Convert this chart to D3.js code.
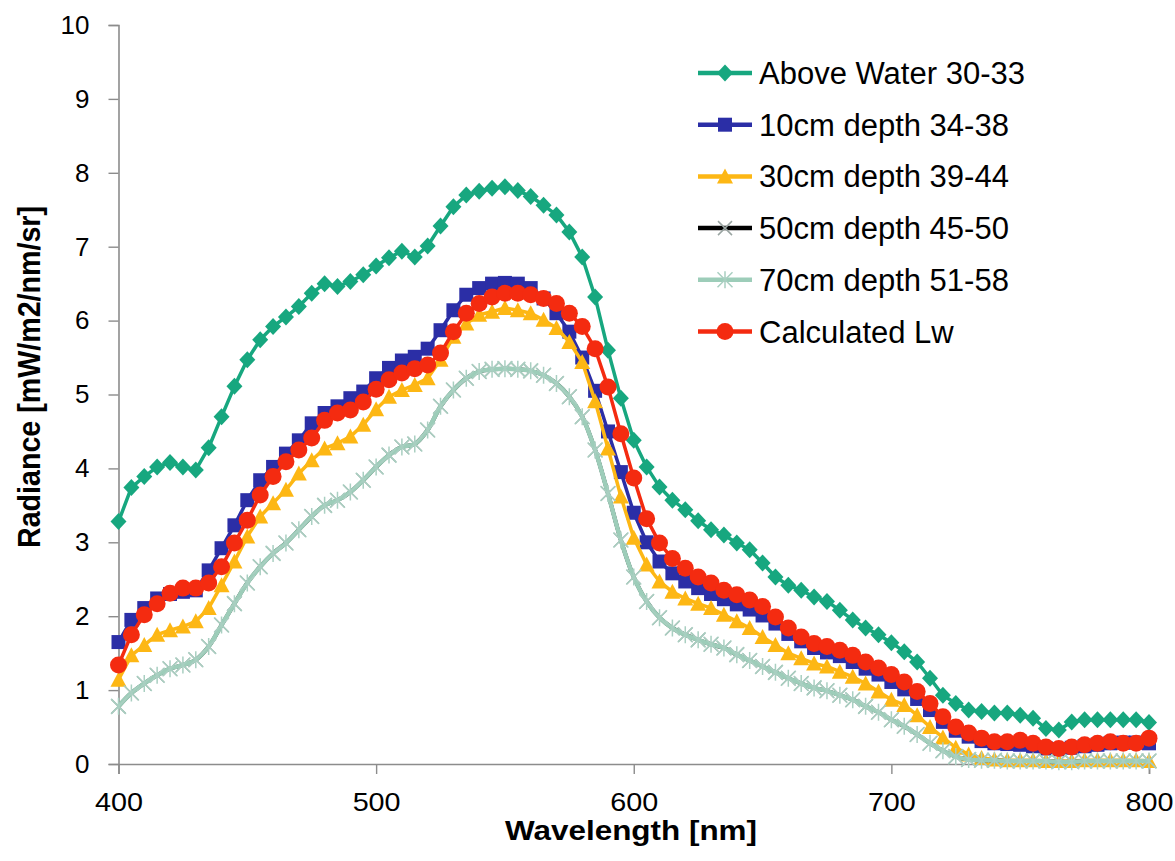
<!DOCTYPE html>
<html>
<head>
<meta charset="utf-8">
<script src="https://cdn.jsdelivr.net/npm/d3@7"></script>
<style>
  html, body { margin: 0; padding: 0; background: #fff; }
  svg { display: block; font-family: "Liberation Sans", Arial, sans-serif; }
</style>
</head>
<body>
<svg id="chart" width="1175" height="861"></svg>
<script>
// Wavelength grid (nm), 5 nm steps
const wavelengths = d3.range(400, 805, 5);

// Radiance spectra [mW/m2/nm/sr]
const aboveWater = [3.28,3.74,3.89,4.02,4.08,4.02,3.98,4.28,4.70,5.11,5.47,5.74,5.92,6.05,6.19,6.37,6.50,6.46,6.53,6.62,
  6.74,6.85,6.94,6.86,7.01,7.28,7.54,7.70,7.75,7.79,7.81,7.76,7.68,7.56,7.43,7.20,6.86,6.32,5.60,4.95,
  4.38,4.02,3.75,3.57,3.44,3.29,3.17,3.10,2.99,2.90,2.72,2.53,2.42,2.35,2.26,2.20,2.08,1.95,1.84,1.75,
  1.64,1.52,1.38,1.16,0.93,0.82,0.73,0.71,0.69,0.69,0.66,0.62,0.48,0.46,0.57,0.60,0.60,0.60,0.60,0.60,0.56];

const depth10 = [1.65,1.95,2.11,2.24,2.30,2.33,2.35,2.62,2.92,3.23,3.57,3.84,4.02,4.20,4.38,4.61,4.75,4.84,4.95,5.04,
  5.22,5.36,5.46,5.51,5.62,5.87,6.14,6.35,6.44,6.50,6.51,6.50,6.44,6.30,6.10,5.85,5.50,5.05,4.50,3.95,
  3.40,3.00,2.74,2.58,2.47,2.38,2.30,2.23,2.16,2.09,2.01,1.90,1.76,1.66,1.57,1.51,1.46,1.38,1.29,1.21,
  1.11,1.01,0.88,0.73,0.57,0.45,0.37,0.31,0.28,0.27,0.26,0.24,0.21,0.20,0.22,0.24,0.26,0.28,0.29,0.29,0.28];

const depth30 = [1.14,1.47,1.61,1.75,1.81,1.86,1.93,2.11,2.42,2.74,3.08,3.35,3.53,3.71,3.93,4.11,4.27,4.34,4.43,4.59,
  4.80,4.97,5.06,5.13,5.22,5.47,5.78,5.96,6.08,6.12,6.17,6.14,6.10,6.01,5.90,5.71,5.44,4.91,4.27,3.62,
  3.06,2.70,2.47,2.33,2.24,2.17,2.11,2.02,1.93,1.84,1.72,1.61,1.50,1.43,1.36,1.32,1.25,1.18,1.09,0.98,
  0.87,0.80,0.66,0.50,0.36,0.22,0.13,0.08,0.06,0.05,0.05,0.05,0.04,0.04,0.04,0.05,0.05,0.05,0.05,0.05,0.04];

const depth50 = [0.78,0.96,1.09,1.20,1.29,1.34,1.41,1.59,1.88,2.17,2.45,2.67,2.85,2.99,3.17,3.35,3.50,3.57,3.68,3.84,
  4.02,4.18,4.29,4.33,4.52,4.84,5.06,5.22,5.31,5.34,5.35,5.34,5.32,5.26,5.15,4.97,4.70,4.25,3.66,3.03,
  2.53,2.20,1.98,1.84,1.75,1.68,1.62,1.57,1.48,1.40,1.32,1.24,1.16,1.09,1.03,0.99,0.93,0.87,0.78,0.70,
  0.60,0.51,0.40,0.28,0.18,0.10,0.06,0.05,0.05,0.04,0.04,0.04,0.04,0.03,0.03,0.04,0.04,0.04,0.04,0.04,0.04];

const depth70 = [0.78,0.96,1.09,1.20,1.29,1.34,1.41,1.59,1.88,2.17,2.45,2.67,2.85,2.99,3.17,3.35,3.50,3.57,3.68,3.84,
  4.02,4.18,4.29,4.33,4.52,4.84,5.06,5.22,5.31,5.34,5.35,5.34,5.32,5.26,5.15,4.97,4.70,4.25,3.66,3.03,
  2.53,2.20,1.98,1.84,1.75,1.68,1.62,1.57,1.48,1.40,1.32,1.24,1.16,1.09,1.03,0.99,0.93,0.87,0.78,0.70,
  0.60,0.51,0.40,0.28,0.18,0.10,0.06,0.05,0.05,0.04,0.04,0.04,0.04,0.03,0.03,0.04,0.04,0.04,0.04,0.04,0.04];

const calculatedLw = [1.34,1.75,2.02,2.17,2.31,2.38,2.38,2.45,2.67,2.99,3.30,3.64,3.89,4.09,4.25,4.41,4.65,4.75,4.79,4.90,
  5.07,5.20,5.29,5.35,5.40,5.56,5.85,6.10,6.23,6.32,6.37,6.37,6.35,6.30,6.23,6.10,5.92,5.62,5.10,4.47,
  3.87,3.32,2.99,2.78,2.65,2.53,2.45,2.35,2.29,2.22,2.13,1.99,1.84,1.72,1.63,1.59,1.54,1.47,1.38,1.30,
  1.21,1.11,0.98,0.82,0.64,0.50,0.42,0.35,0.30,0.30,0.32,0.28,0.23,0.21,0.23,0.26,0.28,0.30,0.28,0.28,0.35];

const seriesNames = ["Above Water 30-33", "10cm depth 34-38", "30cm depth 39-44",
                     "50cm depth 45-50", "70cm depth 51-58", "Calculated Lw"];
const seriesValues = [aboveWater, depth10, depth30, depth50, depth70, calculatedLw];

const xTicks = [400, 500, 600, 700, 800];
const yTicks = [0, 1, 2, 3, 4, 5, 6, 7, 8, 9, 10];

// Styling for each series: line colour, marker shape and marker colours
const styles = [
  { line: "#17a77f", marker: "diamond",  fill: "#17a77f", stroke: "none", width: 3.5, curve: d3.curveLinear },
  { line: "#2b2ea6", marker: "square",   fill: "#2b2ea6", stroke: "none", width: 3.5, curve: d3.curveLinear },
  { line: "#fdb714", marker: "triangle", fill: "#fdb714", stroke: "none", width: 3.5, curve: d3.curveLinear },
  { line: "#000000", marker: "cross",    fill: "none", stroke: "#9aa5a2", width: 4, curve: d3.curveCatmullRom },
  { line: "#9dcdb9", marker: "asterisk", fill: "none", stroke: "#a9cfc1", width: 4.5, curve: d3.curveCatmullRom },
  { line: "#f42b10", marker: "circle",   fill: "#f42b10", stroke: "none", width: 3.5, curve: d3.curveLinear }
];

const svg = d3.select("#chart");
const margin = { left: 118.5, right: 1149, top: 25, bottom: 764 };

const x = d3.scaleLinear().domain([400, 800]).range([margin.left, margin.right]);
const y = d3.scaleLinear().domain([0, 10]).range([margin.bottom, margin.top]);

// Marker path generators (centred on the origin)
function markerPath(kind) {
  switch (kind) {
    case "diamond":  return "M0,-8.5L8,0L0,8.5L-8,0Z";
    case "square":   return "M-7,-7H7V7H-7Z";
    case "triangle": return "M0,-8L8,7H-8Z";
    case "circle":   return "M0,-8.5A8.5,8.5 0 1,1 0,8.5A8.5,8.5 0 1,1 0,-8.5Z";
    case "cross":    return "M-7,-7L7,7M7,-7L-7,7";
    case "asterisk": return "M-7.5,-7.5L7.5,7.5M7.5,-7.5L-7.5,7.5M0,-8.5V8.5";
  }
}

// Axes
const yAxis = d3.axisLeft(y).tickValues(yTicks).tickSize(10).tickPadding(19).tickFormat(d3.format("d"));
const xAxis = d3.axisBottom(x).tickValues(xTicks).tickSize(10).tickPadding(19).tickFormat(d3.format("d"));

const gy = svg.append("g").attr("transform", `translate(${margin.left},0)`).call(yAxis);
const gx = svg.append("g").attr("transform", `translate(0,${margin.bottom})`).call(xAxis);

[gx, gy].forEach(g => {
  g.select(".domain").attr("stroke", "#8c8c8c").attr("stroke-width", 1.6);
  g.selectAll(".tick line").attr("stroke", "#8c8c8c").attr("stroke-width", 1.4);
  g.selectAll(".tick text")
    .attr("fill", "#000")
    .style("font-family", "'Liberation Sans', Arial, sans-serif");
});
gy.selectAll(".tick text").style("font-size", "26px");
gx.selectAll(".tick text").style("font-size", "26px").attr("textLength", 48).attr("lengthAdjust", "spacingAndGlyphs");

// Axis titles
svg.append("text")
  .attr("x", 631).attr("y", 840)
  .attr("text-anchor", "middle")
  .attr("textLength", 252).attr("lengthAdjust", "spacingAndGlyphs")
  .style("font-size", "28px").style("font-weight", "bold")
  .text("Wavelength [nm]");

svg.append("text")
  .attr("transform", "translate(40,377) rotate(-90)")
  .attr("text-anchor", "middle")
  .attr("textLength", 342).attr("lengthAdjust", "spacingAndGlyphs")
  .style("font-size", "31px").style("font-weight", "bold")
  .text("Radiance [mW/m2/nm/sr]");

// Series lines and markers
const plot = svg.append("g");
seriesValues.forEach((vals, i) => {
  const st = styles[i];
  const pts = wavelengths.map((w, j) => [w, vals[j]]);
  const g = plot.append("g").attr("class", "series-" + i);
  const line = d3.line().x(d => x(d[0])).y(d => y(d[1])).curve(st.curve);
  g.append("path")
    .datum(pts)
    .attr("d", line)
    .attr("fill", "none")
    .attr("stroke", st.line)
    .attr("stroke-width", st.width)
    .attr("stroke-linejoin", "round");
  g.selectAll("path.mk")
    .data(pts)
    .join("path")
    .attr("class", "mk")
    .attr("transform", d => `translate(${x(d[0])},${y(d[1])})`)
    .attr("d", markerPath(st.marker))
    .attr("fill", st.fill)
    .attr("stroke", st.stroke)
    .attr("stroke-width", 1.5);
});

// Legend
const legend = svg.append("g").attr("transform", "translate(698,73)");
seriesNames.forEach((name, i) => {
  const st = styles[i];
  const row = legend.append("g").attr("transform", `translate(0,${i * 51.7})`);
  row.append("line")
    .attr("x1", 0).attr("x2", 54).attr("y1", 0).attr("y2", 0)
    .attr("stroke", st.line).attr("stroke-width", 4.5);
  row.append("path")
    .attr("transform", "translate(27,0)")
    .attr("d", markerPath(st.marker))
    .attr("fill", st.fill)
    .attr("stroke", st.stroke)
    .attr("stroke-width", 1.5);
  row.append("text")
    .attr("x", 61).attr("y", 11)
    .style("font-size", "31px")
    .attr("fill", "#000")
    .text(name);
});
</script>
</body>
</html>
